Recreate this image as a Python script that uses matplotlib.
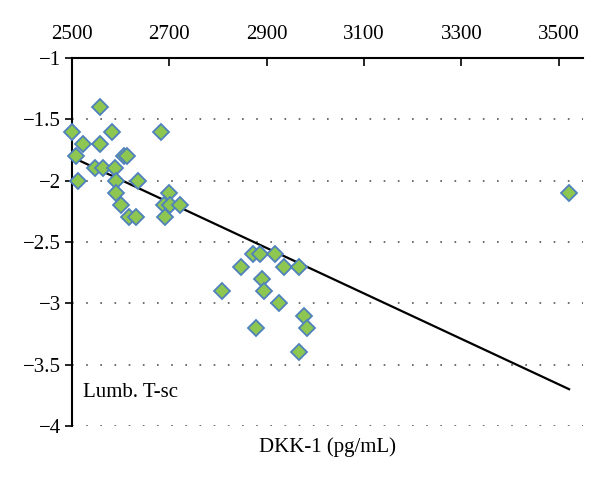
import numpy as np
from matplotlib import pyplot as plt

# DKK-1 (pg/mL) vs lumbar T-score
dkk1 = [2501, 2558, 2508, 2522, 2558, 2583, 2683, 2513, 2547, 2564,
        2588, 2606, 2613, 2590, 2590, 2600, 2617, 2632, 2635, 2700,
        2688, 2702, 2722, 2691, 2809, 2847, 2871, 2887, 2916, 2936,
        2966, 2891, 2894, 2926, 2977, 2877, 2983, 2966, 3521]
tscore = [-1.6, -1.4, -1.8, -1.7, -1.7, -1.6, -1.6, -2.0, -1.9, -1.9,
          -1.9, -1.8, -1.8, -2.0, -2.1, -2.2, -2.3, -2.3, -2.0, -2.1,
          -2.2, -2.2, -2.2, -2.3, -2.9, -2.7, -2.6, -2.6, -2.6, -2.7,
          -2.7, -2.8, -2.9, -3.0, -3.1, -3.2, -3.2, -3.4, -2.1]
# linear trend line as drawn in the figure (ends)
trend_x = [2501, 3521]
trend_y = [-1.81, -3.70]
xticks = [2500, 2700, 2900, 3100, 3300, 3500]
yticks = [-1, -1.5, -2, -2.5, -3, -3.5, -4]

plt.rcParams['font.family'] = ['Liberation Serif', 'DejaVu Serif']

fig = plt.figure(figsize=(6, 4.82), dpi=100)
ax = fig.add_axes([0.12, 0.1162, 0.852, 0.7635])

ax.set_xlim(2500, 3550)
ax.set_ylim(-4, -1)

for yv in yticks[1:]:
    ax.axhline(yv, color='#555555', lw=1.2, ls=(0, (1, 7.5)), zorder=0)

ax.plot(trend_x, trend_y, color='black', lw=1.6, zorder=2)

ax.plot(dkk1, tscore, 'D', ms=8.3, mfc='#8DC650', mec='#4F81BD', mew=1.3,
        zorder=3, clip_on=False)

ax.spines['right'].set_visible(False)
ax.spines['bottom'].set_visible(False)
ax.spines['top'].set_linewidth(1.5)
ax.spines['left'].set_linewidth(1.5)

ax.xaxis.tick_top()
ax.set_xticks(xticks)
ax.set_yticks(yticks)
ax.set_yticklabels(['\u22121', '\u22121.5', '\u22122', '\u22122.5', '\u22123', '\u22123.5', '\u22124'])
ax.tick_params(axis='x', direction='in', length=6, width=1.2, labelsize=15, pad=10)
ax.tick_params(axis='y', direction='out', length=5, width=1.2, labelsize=15, pad=3)

ax.text(0.0215, 0.092, 'Lumb. T-sc', transform=ax.transAxes, fontsize=15, va='center')
ax.set_xlabel('DKK-1 (pg/mL)', fontsize=15, labelpad=8)

fig.savefig('out.png')
